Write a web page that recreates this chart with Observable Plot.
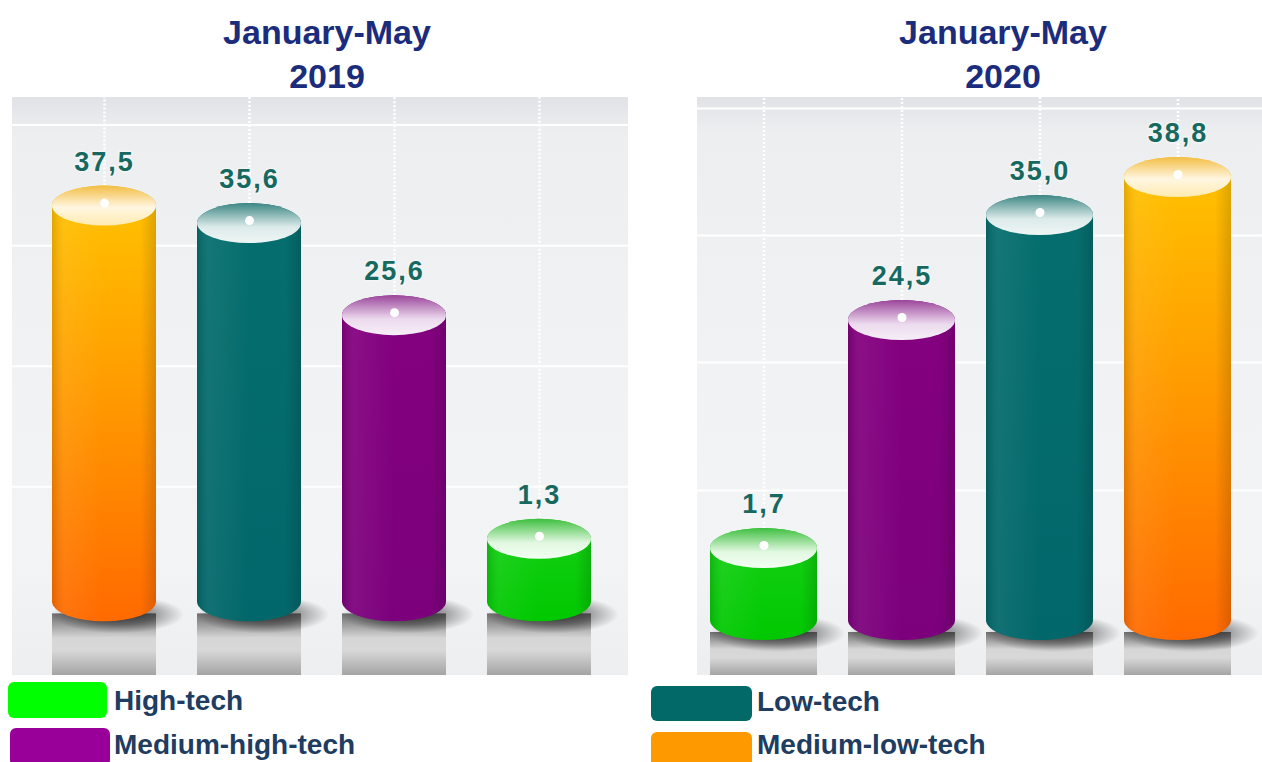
<!DOCTYPE html>
<html>
<head>
<meta charset="utf-8">
<script src="https://cdn.jsdelivr.net/npm/d3@7"></script>
<script src="https://cdn.jsdelivr.net/npm/@observablehq/plot@0.6"></script>
<style>
  html, body { margin: 0; padding: 0; background: #ffffff; }
  #root { position: relative; width: 1262px; height: 762px; overflow: hidden; font-family: "Liberation Sans", Arial, sans-serif; }
  .title { position: absolute; text-align: center; font-weight: bold; font-size: 34px; line-height: 44px; color: #1c2c7c; }
  .panel { position: absolute; top: 97px; }
  .panel text { letter-spacing: 2px; }
  .box { position: absolute; border-radius: 6px; }
  .leg { position: absolute; font-weight: bold; font-size: 28px; line-height: 28px; color: #203c60; white-space: nowrap; }
</style>
</head>
<body>
<svg width="0" height="0" style="position:absolute">
  <defs>
    <linearGradient id="body-mlt" x1="0" y1="0" x2="0" y2="1">
      <stop offset="0" stop-color="#ffc400"/>
      <stop offset="0.45" stop-color="#ff9d00"/>
      <stop offset="1" stop-color="#ff6a00"/>
    </linearGradient>
    <linearGradient id="body-lt" x1="0" y1="0" x2="0" y2="1">
      <stop offset="0" stop-color="#066e6e"/>
      <stop offset="1" stop-color="#02676a"/>
    </linearGradient>
    <linearGradient id="body-mht" x1="0" y1="0" x2="0" y2="1">
      <stop offset="0" stop-color="#84007f"/>
      <stop offset="1" stop-color="#7c007c"/>
    </linearGradient>
    <linearGradient id="body-ht" x1="0" y1="0" x2="0" y2="1">
      <stop offset="0" stop-color="#16d016"/>
      <stop offset="1" stop-color="#00c800"/>
    </linearGradient>
    <linearGradient id="cap-mlt" x1="0" y1="0" x2="0" y2="1">
      <stop offset="0" stop-color="#f3bd45"/>
      <stop offset="0.55" stop-color="#fff7e2"/>
      <stop offset="1" stop-color="#ffeab0"/>
    </linearGradient>
    <linearGradient id="cap-lt" x1="0" y1="0" x2="0" y2="1">
      <stop offset="0" stop-color="#3d8784"/>
      <stop offset="0.6" stop-color="#dcebea"/>
      <stop offset="1" stop-color="#eef6f5"/>
    </linearGradient>
    <linearGradient id="cap-mht" x1="0" y1="0" x2="0" y2="1">
      <stop offset="0" stop-color="#9b469b"/>
      <stop offset="0.6" stop-color="#ecdaee"/>
      <stop offset="1" stop-color="#f6eef7"/>
    </linearGradient>
    <linearGradient id="cap-ht" x1="0" y1="0" x2="0" y2="1">
      <stop offset="0" stop-color="#3fbf3f"/>
      <stop offset="0.6" stop-color="#e2f8e2"/>
      <stop offset="1" stop-color="#f2fff2"/>
    </linearGradient>
    <linearGradient id="shade" x1="0" y1="0" x2="1" y2="0">
      <stop offset="0" stop-color="#000" stop-opacity="0.12"/>
      <stop offset="0.12" stop-color="#fff" stop-opacity="0.06"/>
      <stop offset="0.5" stop-color="#fff" stop-opacity="0"/>
      <stop offset="0.85" stop-color="#000" stop-opacity="0"/>
      <stop offset="1" stop-color="#000" stop-opacity="0.14"/>
    </linearGradient>
    <linearGradient id="refl" x1="0" y1="0" x2="0" y2="1">
      <stop offset="0" stop-color="#6e6e6e"/>
      <stop offset="0.18" stop-color="#9c9c9c"/>
      <stop offset="0.4" stop-color="#d6d6d6"/>
      <stop offset="0.6" stop-color="#d8d8d8"/>
      <stop offset="1" stop-color="#a4a4a4"/>
    </linearGradient>
    <radialGradient id="shadow" cx="0.5" cy="0.45" r="0.5">
      <stop offset="0" stop-color="#000" stop-opacity="0.6"/>
      <stop offset="0.55" stop-color="#000" stop-opacity="0.35"/>
      <stop offset="1" stop-color="#000" stop-opacity="0"/>
    </radialGradient>
  </defs>
</svg>
<div id="root">
  <div class="title" style="left:27px; top:10px; width:600px;">January-May<br>2019</div>
  <div class="title" style="left:803px; top:10px; width:400px;">January-May<br>2020</div>
  <div id="left" class="panel" style="left:12px;"></div>
  <div id="right" class="panel" style="left:697px;"></div>

  <div class="box" style="left:8px; top:682px; width:99px; height:36px; background:#00ff00;"></div>
  <div class="leg" style="left:114px; top:687px;">High-tech</div>
  <div class="box" style="left:10px; top:728px; width:100px; height:38px; background:#990099;"></div>
  <div class="leg" style="left:114px; top:731px;">Medium-high-tech</div>
  <div class="box" style="left:651px; top:686px; width:101px; height:35px; background:#036868;"></div>
  <div class="leg" style="left:757px; top:688px;">Low-tech</div>
  <div class="box" style="left:651px; top:732px; width:101px; height:38px; background:#ff9900;"></div>
  <div class="leg" style="left:757px; top:731px;">Medium-low-tech</div>
</div>
<script>
// ---- data ----
const categories2019 = ["Medium-low-tech", "Low-tech", "Medium-high-tech", "High-tech"];
const values2019 = [37.5, 35.6, 25.6, 1.3];
const categories2020 = ["High-tech", "Medium-high-tech", "Low-tech", "Medium-low-tech"];
const values2020 = [1.7, 24.5, 35.0, 38.8];
const gridValues2019 = [7.0, 20.1, 33.2, 46.3];
const gridValues2020 = [7.5, 20.3, 33.0, 45.7];

// ---- style lookup ----
const styleKey = {"High-tech": "ht", "Medium-high-tech": "mht", "Low-tech": "lt", "Medium-low-tech": "mlt"};
const BASE = -5.5;   // visual floor of the cylinders
const RY = 20;       // ellipse half-height of caps, px
const fmt = v => v.toFixed(1).replace(".", ",");

function panel({cats, values, grid, domain, range, pi, po, width}) {
  const data = cats.map((c, i) => ({cat: c, value: values[i], key: styleKey[c]}));
  const common = {x: "cat", insetTop: -RY, insetBottom: -RY, rx: 80, ry: RY};
  return Plot.plot({
    width, height: 578, margin: 0,
    style: {background: "linear-gradient(to bottom, #e0e2e5 0%, #eceef0 6%, #f1f2f4 45%, #f3f4f6 80%, #eceef0 100%)", fontFamily: "'Liberation Sans', Arial, sans-serif", overflow: "visible"},
    x: {domain: cats, range, paddingInner: pi, paddingOuter: po, axis: null},
    y: {domain, axis: null},
    color: {type: "identity"},
    marks: [
      Plot.ruleY(grid, {stroke: "#ffffff", strokeWidth: 2}),
      Plot.ruleX(data, {x: "cat", y1: "value", y2: domain[1], stroke: "#ffffff", strokeWidth: 2.5, strokeDasharray: "2,2"}),
      Plot.barY(data, {x: "cat", y1: domain[0], y2: BASE, insetTop: RY - 8, fill: () => "url(#refl)"}),
      Plot.barY(data, {x: "cat", y1: BASE, y2: BASE, insetTop: -4, insetBottom: -34, insetLeft: -6, insetRight: -22, dx: 6, fill: () => "url(#shadow)"}),
      Plot.barY(data, {...common, y1: BASE, y2: "value", fill: d => `url(#body-${d.key})`}),
      Plot.barY(data, {...common, y1: BASE, y2: "value", fill: () => "url(#shade)"}),
      Plot.barY(data, {...common, y1: "value", y2: "value", fill: d => `url(#cap-${d.key})`}),
      Plot.dot(data, {x: "cat", y: "value", r: 4.5, fill: "#ffffff", dy: -3}),
      Plot.text(data, {x: "cat", y: "value", text: d => fmt(d.value), dy: -44, fontSize: 27, fontWeight: "bold",
        fill: "#17685f", stroke: "#f3f5f6", strokeWidth: 3, paintOrder: "stroke"})
    ]
  });
}

document.getElementById("left").append(panel({
  cats: categories2019, values: values2019, grid: gridValues2019,
  domain: [-13.5, 49.3], range: [23.4, 595.6], pi: 0.28, po: 0.1, width: 616
}));
document.getElementById("right").append(panel({
  cats: categories2020, values: values2020, grid: gridValues2020,
  domain: [-11, 46.8], range: [6, 541], pi: 0.225, po: 0.05, width: 565
}));
</script>
</body>
</html>
